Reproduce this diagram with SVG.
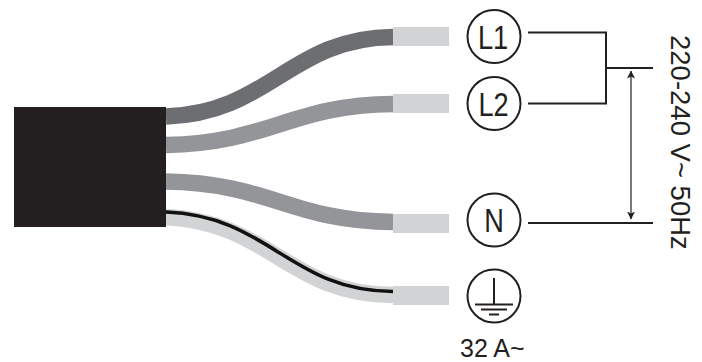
<svg xmlns="http://www.w3.org/2000/svg" width="702" height="362" viewBox="0 0 702 362">
<style>
text{font-family:"Liberation Sans",Arial,sans-serif;fill:#231f20}
.w{fill:none;stroke-width:16.5}
.tip{fill:#d1d3d4}
.c{fill:#fff;stroke:#231f20;stroke-width:2}
.l{fill:none;stroke:#231f20;stroke-width:2}
.t{stroke:#231f20;stroke-width:1.2;fill:none}
.lab{font-size:34px;text-anchor:middle}
</style>
<defs><marker id="a" markerUnits="userSpaceOnUse" markerWidth="8" markerHeight="9" refX="7.5" refY="4" orient="auto-start-reverse"><path d="M0 0L8 4L0 8L2 4Z" fill="#231f20"/></marker></defs>
<rect width="702" height="362" fill="#fff"/>
<g id="connectors">
<path class="w" stroke="#6d6e71" d="M166 116.500C270 113 290 38 393 37"/>
<path class="w" stroke="#939598" d="M166 145C270 143 290 105 393 104"/>
<path class="w" stroke="#939598" d="M166 181.500C270 183 290 221 393 222"/>
<path class="w" stroke="#d1d3d4" d="M166 217C270 222 290 295 393 295"/>
<path fill="none" stroke="#111" stroke-width="3.500" d="M166 212C270 216 290 291 393 291.500"/>
<path class="l" d="M528 32.500H606V103.500H528M606 68H653M528 223H653"/>
<path class="t" marker-start="url(#a)" marker-end="url(#a)" d="M631 71V219"/>
</g>
<g id="cable"><rect x="14" y="107" width="152" height="120" fill="#231f20"/></g>
<g id="tips">
<rect class="tip" x="393" y="27" width="56" height="19"/>
<rect class="tip" x="393" y="94" width="56" height="19"/>
<rect class="tip" x="393" y="214" width="56" height="19"/>
<rect class="tip" x="393" y="286" width="56" height="19"/>
</g>
<g id="L1"><circle class="c" cx="494" cy="36.500" r="26.500"/><text class="lab" transform="translate(493 49) scale(.8 1)">L1</text></g>
<g id="L2"><circle class="c" cx="494" cy="103.500" r="26.500"/><text class="lab" transform="translate(493.500 115.500) scale(.8 1)">L2</text></g>
<g id="N"><circle class="c" cx="494" cy="220" r="26.500"/><text class="lab" transform="translate(494 232) scale(.8 1)">N</text></g>
<g id="PE"><circle class="c" cx="494" cy="296" r="26.500"/><path class="l" d="M494 278V304M475 304.500H513M481 309.500H507" stroke-width="1.500"/><path class="l" d="M489 314.500H499" stroke-width="1.500"/></g>
<text id="voltage" transform="translate(671 35) rotate(90)" font-size="27.500">220-240 V~ 50Hz</text>
<text id="current" x="460" y="356.500" font-size="25">32 A~</text>
</svg>
